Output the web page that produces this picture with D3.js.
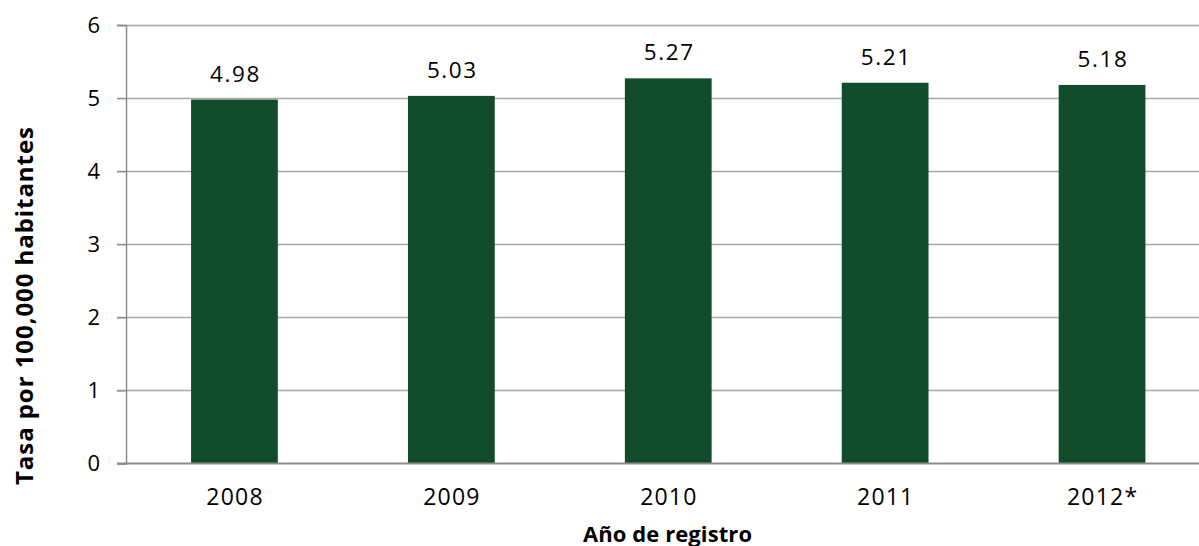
<!DOCTYPE html>
<html>
<head>
<meta charset="utf-8">
<script src="https://cdn.jsdelivr.net/npm/d3@7"></script>
<style>
  html, body { margin: 0; padding: 0; background: #fff; }
  svg { display: block; font-family: "Open Sans", "Noto Sans", sans-serif; }
</style>
</head>
<body>
<svg id="chart" width="1199" height="546"></svg>
<script>
const years = ["2008", "2009", "2010", "2011", "2012*"];
const rates = [4.98, 5.03, 5.27, 5.21, 5.18];
const yTicks = [0, 1, 2, 3, 4, 5, 6];
const yTitle = "Tasa por 100,000 habitantes";
const xTitle = "Año de registro";

(function () {
const svg = d3.select("#chart");
const W = 1199;
const FONT = "'Open Sans', 'Noto Sans', sans-serif";
const mLeft = 126, mRight = 1210.5, mTop = 25, mBottom = 463.5;

const x = d3.scaleBand().domain(years).range([mLeft, mRight]).paddingInner(0.6).paddingOuter(0.3);
const y = d3.scaleLinear().domain([0, 6]).range([mBottom, mTop]);

// gridlines
svg.append("g")
  .selectAll("line")
  .data(yTicks.filter(d => d > 0))
  .join("line")
  .attr("x1", mLeft - 9).attr("x2", W)
  .attr("y1", d => Math.round(y(d)) + 0.5).attr("y2", d => Math.round(y(d)) + 0.5)
  .attr("stroke", "#a8a8a8").attr("stroke-width", 1.3);

// y axis
const yAxis = svg.append("g")
  .attr("transform", `translate(${mLeft},0)`)
  .call(d3.axisLeft(y).tickValues(yTicks).tickFormat(d3.format("d")).tickSize(9).tickPadding(17));
yAxis.select(".domain").attr("stroke", "#8c8c8c").attr("stroke-width", 1.5);
yAxis.selectAll(".tick line").attr("stroke", "#8c8c8c").attr("stroke-width", 1.3);
yAxis.selectAll(".tick text").attr("font-size", 22).attr("fill", "#000").attr("font-family", FONT);

// bars
svg.append("g")
  .selectAll("rect")
  .data(years.map((k, i) => ({k, v: rates[i]})))
  .join("rect")
  .attr("x", d => x(d.k))
  .attr("width", x.bandwidth())
  .attr("y", d => y(d.v))
  .attr("height", d => y(0) - y(d.v))
  .attr("fill", "#124d2b");

// x axis
const xAxis = svg.append("g")
  .attr("transform", `translate(0,${mBottom})`)
  .call(d3.axisBottom(x).tickSize(0).tickPadding(25));
xAxis.select(".domain").attr("stroke", "#8c8c8c").attr("stroke-width", 2).attr("d", `M${mLeft - 9},0H${W}`);
xAxis.selectAll(".tick text")
  .attr("font-size", 23).attr("fill", "#000")
  .attr("font-family", FONT)
  .attr("letter-spacing", 1.2).attr("dx", 0.6)
  .attr("dy", "0.71em");

// value labels
svg.append("g")
  .selectAll("text")
  .data(years.map((k, i) => ({k, v: rates[i]})))
  .join("text")
  .attr("x", d => x(d.k) + x.bandwidth() / 2 + 1)
  .attr("y", d => y(d.v) - 18)
  .attr("text-anchor", "middle")
  .attr("font-size", 22.5)
  .attr("letter-spacing", 1.6)
  .attr("fill", "#000")
  .text(d => d3.format(".2f")(d.v));

// axis titles
svg.append("text")
  .attr("transform", `translate(33,306) rotate(-90)`)
  .attr("text-anchor", "middle")
  .attr("font-weight", "bold")
  .attr("font-size", 24)
  .attr("textLength", 358)
  .attr("lengthAdjust", "spacing")
  .attr("fill", "#000")
  .text(yTitle);

svg.append("text")
  .attr("x", 667.5)
  .attr("y", 541.5)
  .attr("text-anchor", "middle")
  .attr("font-weight", "bold")
  .attr("font-size", 22)
  .attr("textLength", 169)
  .attr("lengthAdjust", "spacing")
  .attr("fill", "#000")
  .text(xTitle);
})();
</script>
</body>
</html>
